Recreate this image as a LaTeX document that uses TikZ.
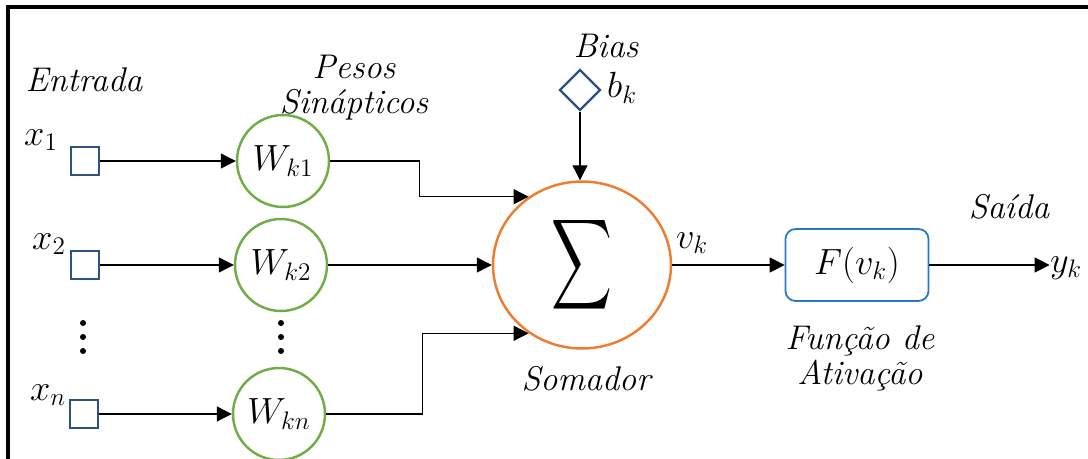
\documentclass[tikz,border=0pt]{standalone}
\usepackage{graphicx}
\usetikzlibrary{positioning,arrows.meta,shapes.geometric}
\definecolor{inblue}{RGB}{44,82,130}
\definecolor{wgreen}{RGB}{112,173,71}
\definecolor{sumorange}{RGB}{237,125,49}
\definecolor{boxblue}{RGB}{38,120,200}

\begin{document}
\begin{tikzpicture}[
    x=0.02cm, y=-0.02cm,
    >={Triangle[length=8.5pt,width=8.5pt]},
    lbl/.style={
        font=\fontsize{19.5}{20}\selectfont\itshape,
        align=center
    },
    mathlbl/.style={
        font=\fontsize{20.74}{22}\selectfont,
        inner sep=1pt
    },
    entry/.style={
        draw=inblue,
        line width=1.3pt,
        minimum size=0.56cm,
        inner sep=0pt
    },
    weight/.style={
        circle,
        draw=wgreen,
        line width=1.4pt,
        minimum size=1.84cm,
        inner sep=0pt,
        font=\fontsize{20.74}{22}\selectfont
    },
    somador/.style={
        ellipse,
        draw=sumorange,
        line width=1.4pt,
        minimum width=3.56cm,
        minimum height=3.34cm,
        inner sep=0pt
    },
    biasbox/.style={
        diamond,
        draw=inblue,
        line width=1.3pt,
        minimum size=0.82cm,
        inner sep=0pt
    },
    activ/.style={
        draw=boxblue,
        line width=1pt,
        rounded corners=0.2cm,
        minimum width=2.86cm,
        minimum height=1.44cm,
        font=\fontsize{20.74}{22}\selectfont
    },
    arrow/.style={->, line width=0.7pt}
]

\useasboundingbox (0,0) rectangle (1088,459);

% FRAME
\draw[line width=1.8pt] (1088,7) -- (8,7) -- (8,459);

% INPUTS
\node[lbl] (entrada) at (84,80) {Entrada};

\node[entry] (x1) at (85,161) {};
\node[entry] (x2) at (85,265) {};
\node[entry] (xn) at (84,414) {};

\node[mathlbl] (x1lbl) at (41,140) {$x_1$};
\node[mathlbl] (x2lbl) at (49,244) {$x_2$};
\node[mathlbl] (xnlbl) at (48,395) {$x_n$};

% WEIGHTS
\node[lbl] (pesos) at (354,88) {Pesos\\Sinápticos};

\node[weight] (wk1) at (283,161) {$W_{k1}$};
\node[weight] (wk2) at (281,265) {$W_{k2}$};
\node[weight] (wkn) at (279,414) {$W_{kn}$};

\foreach \dy in {323,337,351} {
    \fill (83,\dy) circle (1.7pt);
    \fill (281,\dy) circle (1.7pt);
}

\draw[arrow] (x1) -- (wk1);
\draw[arrow] (x2) -- (wk2);
\draw[arrow] (xn) -- (wkn);

% SUMMING JUNCTION
\node[somador] (sum) at (582,265)
{\scalebox{2.4}[3.6]{$\displaystyle\sum$}};

\node[lbl] (somlbl) at (586,379) {Somador};

\node[biasbox] (bias) at (580,90) {};
\node[lbl] (biaslbl) at (606,46) {Bias};
\node[mathlbl] (bk) at (622,88) {$b_k$};

\draw[arrow] (wk1.east) -- ++(89,0) |- (sum.128);
\draw[arrow] (wk2) -- (sum);
\draw[arrow] (wkn.east) -- ++(96,0) |- (sum.232);
\draw[arrow] (bias) -- (bias |- sum.north);

% ACTIVATION AND OUTPUT
\node[mathlbl] (vk) at (692,243) {$v_k$};

\node[activ] (act) at (857,265) {$F(v_k)$};
\node[lbl] (actlbl) at (860,358) {Função de\\Ativação};

\node[lbl] (saida) at (1009,207) {Saída};
\node[mathlbl, inner sep=0pt] (yk) at (1066,268) {$y_k$};

\draw[arrow] (sum) -- (act);
\draw[arrow] (act.east) -- (act.east -| yk.west);

\end{tikzpicture}
\end{document}
